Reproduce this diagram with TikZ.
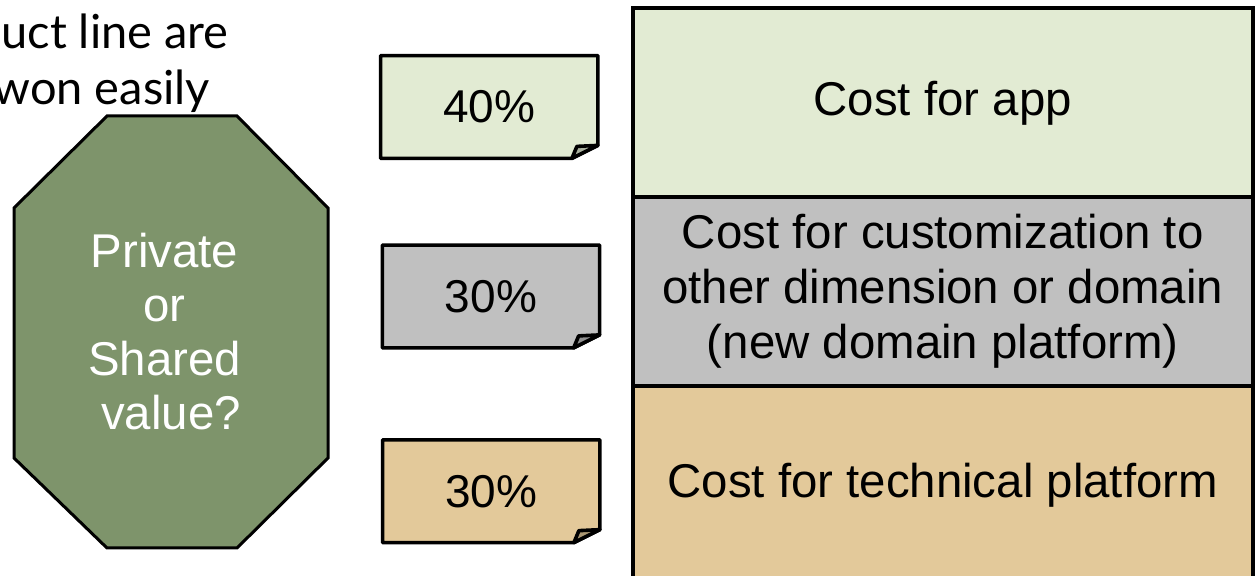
\documentclass[tikz,border=0pt]{standalone}
\usepackage{fontspec}
\setmainfont{Liberation Sans}
\newfontfamily\latofont{Lato}
\usetikzlibrary{positioning, calc, backgrounds}
\definecolor{appgreen}{HTML}{E2EBD3}
\definecolor{customgray}{HTML}{C0C0C0}
\definecolor{techtan}{HTML}{E3C99A}
\definecolor{octgreen}{HTML}{7E946B}

\begin{document}
\begin{tikzpicture}[x=0.5pt, y=-0.5pt,
					costbox/.style={draw, line width=2pt, minimum width=310.25pt, inner sep=0pt, outer sep=0pt,
						align=center, font=\fontsize{23.7}{27.5}\selectfont},
					share/.style={minimum width=108.25pt, minimum height=51pt, inner sep=0pt,
						font=\fontsize{23}{27}\selectfont},
					notefold/.style={line width=1.8pt, line join=round}]
					\useasboundingbox (0,0) rectangle (1255,576);
					% cut-off heading
					\node[anchor=north west, align=left, inner sep=0pt,
						font=\latofont\fontsize{23.5}{28}\selectfont] (claim) at (1,13)
						{uct line are\\\hspace*{-4pt}won easily};
					% octagon
					\draw[line width=1.5pt, fill=octgreen] (107,116) -- (237,116) -- (328,208) -- (328,458)
						-- (237,548) -- (107,548) -- (14,458) -- (14,208) -- cycle;
					\node[text=white, align=center, inner sep=0pt, font=\fontsize{23.7}{27}\selectfont] (question)
						at (164.5,332) {Private\\or\\Shared\\\mbox{ }value?};
					% shares
					\node[share] (appshare) at (489.25,107) {40\%};
					\node[share] (customshare) at (491,296.5) {30\%};
					\node[share] (techshare) at (491.25,491.25) {30\%};
					\begin{scope}[on background layer]
						\foreach \n/\c in {appshare/appgreen, customshare/customgray, techshare/techtan}{
							\draw[notefold, fill=\c] (\n.north west) -- (\n.north east) -- ($(\n.south east)+(0,-13)$)
								-- ($(\n.south east)+(-26,0)$) -- (\n.south west) -- cycle;
							\draw[notefold, fill=\c!75!black] ($(\n.south east)+(-26,0)$) -- ($(\n.south east)+(-21,-12)$)
								-- ($(\n.south east)+(0,-13)$) -- cycle;
						}
					\end{scope}
					% cost stack
					\node[costbox, fill=appgreen, minimum height=94.5pt] (app) at (942.75,103) {Cost for app};
					\node[costbox, fill=customgray, minimum height=94.25pt, below=0pt of app] (custom)
						{Cost for customization to\\other dimension or domain\\(new domain platform)};
					\node[costbox, fill=techtan, minimum height=99pt, below=0pt of custom] (tech) {Cost for technical platform};
				\end{tikzpicture}
\end{document}
